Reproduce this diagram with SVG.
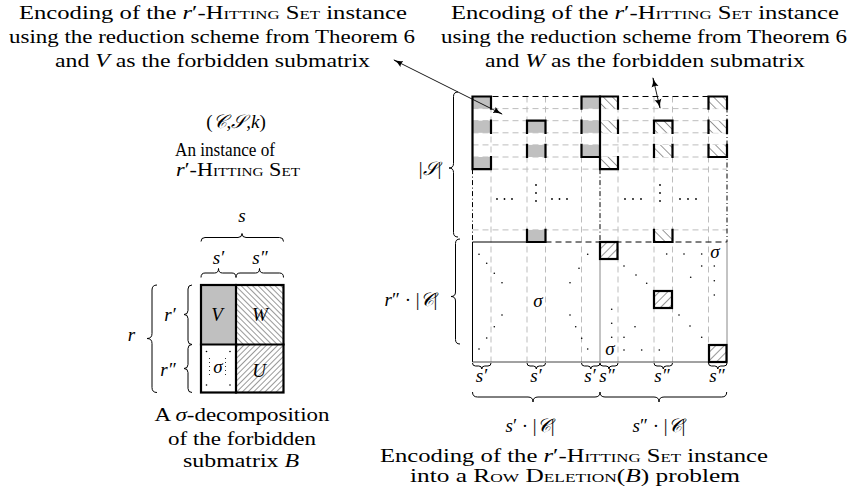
<svg xmlns="http://www.w3.org/2000/svg" width="852" height="499" viewBox="0 0 852 499">
<style>
.t{font-family:"Liberation Serif","DejaVu Serif",serif;font-size:19px;fill:#000}
.i{font-style:italic}
.sc{font-variant:small-caps}
.grid{stroke:#bdbdbd;stroke-width:1;stroke-dasharray:6 4;fill:none}
.thick{stroke:#000;stroke-width:2.2;fill:none;stroke-linecap:square}
.br{stroke:#000;stroke-width:1;fill:none}
.g{fill:#c0c0c0}
.dd{stroke:#000;stroke-width:1;stroke-dasharray:5 2.5 1 2.5;fill:none}
.dash{stroke:#000;stroke-width:1;stroke-dasharray:6 4;fill:none}
.dot{fill:#000}
.hb{fill:url(#hb)}
.hf{fill:url(#hf)}
</style>
<defs>
<pattern id="hbL" patternUnits="userSpaceOnUse" width="4" height="4" patternTransform="rotate(-45)"><line x1="0" y1="0" x2="0" y2="4" stroke="#000" stroke-width="0.8"/></pattern>
<pattern id="hfL" patternUnits="userSpaceOnUse" width="4" height="4" patternTransform="rotate(45)"><line x1="0" y1="0" x2="0" y2="4" stroke="#000" stroke-width="0.8"/></pattern>
<pattern id="hb" patternUnits="userSpaceOnUse" width="6.5" height="6.5" patternTransform="rotate(-45)"><rect width="6.5" height="6.5" fill="#fff"/><line x1="0" y1="0" x2="0" y2="6.5" stroke="#000" stroke-width="0.8"/></pattern>
<pattern id="hf" patternUnits="userSpaceOnUse" width="6" height="6" patternTransform="rotate(45)"><rect width="6" height="6" fill="#fff"/><line x1="0" y1="0" x2="0" y2="6" stroke="#000" stroke-width="0.8"/></pattern>
<marker id="ah" viewBox="0 0 10 8" refX="9" refY="4" markerWidth="10" markerHeight="8" markerUnits="userSpaceOnUse" orient="auto-start-reverse"><path d="M0,0.5 Q4,3.5 10,4 Q4,4.5 0,7.5 Q2,4 0,0.5 Z" fill="#000"/></marker>
</defs>

<g id="caption-left">
<text class="t" x="213" y="19" text-anchor="middle" textLength="388" lengthAdjust="spacingAndGlyphs">Encoding of the <tspan class="i">r</tspan>′-<tspan class="sc">Hitting Set</tspan> instance</text>
<text class="t" x="212" y="43" text-anchor="middle" textLength="406" lengthAdjust="spacingAndGlyphs">using the reduction scheme from Theorem 6</text>
<text class="t" x="212.5" y="67" text-anchor="middle" textLength="315" lengthAdjust="spacingAndGlyphs">and <tspan class="i">V</tspan> as the forbidden submatrix</text>
</g>
<g id="caption-right">
<text class="t" x="645" y="19" text-anchor="middle" textLength="388" lengthAdjust="spacingAndGlyphs">Encoding of the <tspan class="i">r</tspan>′-<tspan class="sc">Hitting Set</tspan> instance</text>
<text class="t" x="644" y="43" text-anchor="middle" textLength="406" lengthAdjust="spacingAndGlyphs">using the reduction scheme from Theorem 6</text>
<text class="t" x="645" y="67" text-anchor="middle" textLength="320" lengthAdjust="spacingAndGlyphs">and <tspan class="i">W</tspan> as the forbidden submatrix</text>
</g>

<g id="instance">
<text class="t" x="236" y="128" text-anchor="middle">(<tspan class="i">𝒞</tspan>,<tspan class="i">𝒮</tspan>,<tspan class="i">k</tspan>)</text>
<text class="t" x="225" y="155.5" text-anchor="middle" textLength="100" lengthAdjust="spacingAndGlyphs">An instance of</text>
<text class="t" x="238" y="176" text-anchor="middle" textLength="124" lengthAdjust="spacingAndGlyphs"><tspan class="i">r</tspan>′-<tspan class="sc">Hitting Set</tspan></text>
</g>

<g id="decomposition">
<rect x="201" y="285" width="35" height="59.5" class="g"/>
<rect x="236" y="285" width="47.5" height="59.5" fill="url(#hbL)"/>
<rect x="236" y="344.5" width="47.5" height="48" fill="url(#hfL)"/>
<text class="t i" x="217" y="321" text-anchor="middle">V</text>
<text class="t i" x="260" y="321" text-anchor="middle" fill="#333">W</text>
<text class="t i" x="259" y="377" text-anchor="middle" fill="#333">U</text>
<text class="t i" x="218" y="373" text-anchor="middle">σ</text>
<line x1="209.5" y1="358" x2="209.5" y2="378" stroke="#000" stroke-width="0.8" stroke-dasharray="1 3"/>
<line x1="225.5" y1="358" x2="225.5" y2="378" stroke="#000" stroke-width="0.8" stroke-dasharray="1 3"/>
<circle class="dot" cx="206.5" cy="351.5" r="0.8"/><circle class="dot" cx="230" cy="351.5" r="0.8"/>
<circle class="dot" cx="206.5" cy="385" r="0.8"/><circle class="dot" cx="230" cy="385" r="0.8"/>
<rect x="201" y="285" width="82.5" height="107.5" class="thick"/>
<line x1="236" y1="285" x2="236" y2="392.5" class="thick"/>
<line x1="201" y1="344.5" x2="283.5" y2="344.5" class="thick"/>
</g>
<g id="decomposition-braces">
<path class="br" d="M201,241.5 Q201,237.5 205,237.5 L238,237.5 Q242,237.5 242,233.5 Q242,237.5 246,237.5 L279.5,237.5 Q283.5,237.5 283.5,241.5"/>
<path class="br" d="M201,277.5 Q201,273 205,273 L214.5,273 Q218.5,273 218.5,268.5 Q218.5,273 222.5,273 L232,273 Q236,273 236,277.5"/>
<path class="br" d="M236,277.5 Q236,273 240,273 L255.5,273 Q259.5,273 259.5,268.5 Q259.5,273 263.5,273 L279.5,273 Q283.5,273 283.5,277.5"/>
<path class="br" d="M192,285 Q188,285 188,289 L188,310.5 Q188,314.5 184,314.5 Q188,314.5 188,318.5 L188,340.5 Q188,344.5 192,344.5"/>
<path class="br" d="M192,344.5 Q188,344.5 188,348.5 L188,364.5 Q188,368.5 184,368.5 Q188,368.5 188,372.5 L188,388.5 Q188,392.5 192,392.5"/>
<path class="br" d="M157,285 Q152,285 152,290 L152,333.5 Q152,338.5 147,338.5 Q152,338.5 152,343.5 L152,387.5 Q152,392.5 157,392.5"/>
<text class="t i" x="242" y="222" text-anchor="middle">s</text>
<text class="t i" x="218.5" y="263.5" text-anchor="middle">s′</text>
<text class="t i" x="260" y="263.5" text-anchor="middle">s″</text>
<text class="t i" x="170" y="321" text-anchor="middle">r′</text>
<text class="t i" x="168" y="376" text-anchor="middle">r″</text>
<text class="t i" x="131.5" y="341" text-anchor="middle">r</text>
</g>
<g id="decomposition-caption">
<text class="t" x="242" y="421" text-anchor="middle" textLength="175" lengthAdjust="spacingAndGlyphs">A <tspan class="i">σ</tspan>-decomposition</text>
<text class="t" x="242" y="444.5" text-anchor="middle" textLength="148" lengthAdjust="spacingAndGlyphs">of the forbidden</text>
<text class="t" x="241" y="467" text-anchor="middle" textLength="116" lengthAdjust="spacingAndGlyphs">submatrix <tspan class="i">B</tspan></text>
</g>

<g id="encoding-grid">
<path class="grid" d="M491,96.5V362 M527,96.5V362 M545.5,96.5V362 M581.5,96.5V362 M618,96.5V362 M654,96.5V362 M672.5,96.5V362 M708.5,96.5V362"/>
<path class="grid" d="M472.5,108.6H727 M472.5,120.7H727 M472.5,132.8H727 M472.5,144.9H727 M472.5,157H727 M472.5,169.1H727 M472.5,229.9H727"/>
</g>
<g id="encoding-V-cells">
<rect class="g" x="472.5" y="96.5" width="18.5" height="12.1"/>
<rect class="g" x="472.5" y="120.7" width="18.5" height="12.1"/>
<rect class="g" x="472.5" y="157" width="18.5" height="12.1"/>
<rect class="g" x="527" y="120.7" width="18.5" height="12.1"/>
<rect class="g" x="527" y="144.9" width="18.5" height="12.1"/>
<rect class="g" x="527" y="229.9" width="18.5" height="12.1"/>
<rect class="g" x="581.5" y="96.5" width="18.5" height="12.1"/>
<rect class="g" x="581.5" y="120.7" width="18.5" height="12.1"/>
<rect class="g" x="581.5" y="144.9" width="18.5" height="12.1"/>
</g>
<g id="encoding-W-cells">
<rect class="hb" x="600" y="96.5" width="18" height="12.1"/>
<rect class="hb" x="600" y="120.7" width="18" height="12.1"/>
<rect class="hb" x="600" y="157" width="18" height="12.1"/>
<rect class="hb" x="654" y="120.7" width="18.5" height="12.1"/>
<rect class="hb" x="654" y="144.9" width="18.5" height="12.1"/>
<rect class="hb" x="654" y="229.9" width="18.5" height="12.1"/>
<rect class="hb" x="708.5" y="96.5" width="18.5" height="12.1"/>
<rect class="hb" x="708.5" y="120.7" width="18.5" height="12.1"/>
<rect class="hb" x="708.5" y="144.9" width="18.5" height="12.1"/>
</g>
<g id="encoding-frame">
<line class="dash" x1="472.5" y1="96.5" x2="727" y2="96.5"/>
<line class="dd" x1="472.5" y1="169.1" x2="472.5" y2="242"/>
<line class="dd" x1="727" y1="96.5" x2="727" y2="242"/>
<line class="dd" x1="600" y1="169.1" x2="600" y2="242"/>
<line x1="472.5" y1="242" x2="527" y2="242" stroke="#000" stroke-width="1"/>
<line class="dash" x1="545.5" y1="242" x2="727" y2="242"/>
<line x1="472.5" y1="242" x2="472.5" y2="362" stroke="#000" stroke-width="1"/>
<line x1="472.5" y1="362" x2="727" y2="362" stroke="#444" stroke-width="1"/>
<line x1="727" y1="242" x2="727" y2="362" stroke="#888" stroke-width="1"/>
<line x1="600" y1="242" x2="600" y2="362" stroke="#888" stroke-width="1"/>
</g>
<g id="encoding-set-columns">
<path class="thick" d="M472.5,96.5V169.1 M472.5,96.5H491 M472.5,169.1H491 M491,96.5V108.6 M491,120.7V132.8 M491,157V169.1"/>
<path class="thick" d="M527,120.7H545.5 M527,242H545.5 M527,120.7V132.8 M545.5,120.7V132.8 M527,144.9V157 M545.5,144.9V157 M527,229.9V242 M545.5,229.9V242"/>
<path class="thick" d="M581.5,96.5H600 M581.5,157H600 M581.5,96.5V108.6 M581.5,120.7V132.8 M581.5,144.9V157"/>
<path class="thick" d="M600,96.5V169.1 M600,96.5H618 M600,169.1H618 M618,96.5V108.6 M618,120.7V132.8 M618,157V169.1"/>
<path class="thick" d="M654,120.7H672.5 M654,242H672.5 M654,120.7V132.8 M672.5,120.7V132.8 M654,144.9V157 M672.5,144.9V157 M654,229.9V242 M672.5,229.9V242"/>
<path class="thick" d="M708.5,96.5H727 M708.5,157H727 M708.5,96.5V108.6 M727,96.5V108.6 M708.5,120.7V132.8 M727,120.7V132.8 M708.5,144.9V157 M727,144.9V157"/>
</g>
<g id="encoding-dots-top">
<circle class="dot" cx="536" cy="185" r="0.9"/><circle class="dot" cx="536" cy="193" r="0.9"/><circle class="dot" cx="536" cy="201" r="0.9"/>
<circle class="dot" cx="497" cy="199" r="0.9"/><circle class="dot" cx="504.5" cy="199" r="0.9"/><circle class="dot" cx="512" cy="199" r="0.9"/>
<circle class="dot" cx="552" cy="199" r="0.9"/><circle class="dot" cx="559.5" cy="199" r="0.9"/><circle class="dot" cx="567" cy="199" r="0.9"/>
<circle class="dot" cx="660" cy="185" r="0.9"/><circle class="dot" cx="660" cy="193" r="0.9"/><circle class="dot" cx="660" cy="201" r="0.9"/>
<circle class="dot" cx="625" cy="199" r="0.9"/><circle class="dot" cx="633" cy="199" r="0.9"/><circle class="dot" cx="641" cy="199" r="0.9"/>
<circle class="dot" cx="680" cy="199" r="0.9"/><circle class="dot" cx="688" cy="199" r="0.9"/><circle class="dot" cx="696" cy="199" r="0.9"/>
</g>
<g id="encoding-sigma-left">
<text class="t i" x="538" y="307" text-anchor="middle">σ</text>
<circle class="dot" cx="479" cy="254.3" r="0.8"/><circle class="dot" cx="486.7" cy="263.3" r="0.8"/><circle class="dot" cx="494.3" cy="273.3" r="0.8"/><circle class="dot" cx="502" cy="282.7" r="0.8"/>
<circle class="dot" cx="502" cy="315" r="0.8"/><circle class="dot" cx="494.3" cy="326.7" r="0.8"/><circle class="dot" cx="486.7" cy="338" r="0.8"/><circle class="dot" cx="479" cy="349" r="0.8"/>
<circle class="dot" cx="587.7" cy="254.3" r="0.8"/><circle class="dot" cx="579" cy="268.3" r="0.8"/><circle class="dot" cx="570" cy="282.7" r="0.8"/>
<circle class="dot" cx="570" cy="315" r="0.8"/><circle class="dot" cx="575.7" cy="326.7" r="0.8"/><circle class="dot" cx="581.7" cy="338.3" r="0.8"/><circle class="dot" cx="587.7" cy="349" r="0.8"/>
</g>
<g id="encoding-U-blocks">
<rect class="hf" x="600" y="242" width="17.5" height="17"/>
<rect class="hf" x="654" y="291" width="18" height="17"/>
<rect class="hf" x="709" y="345" width="17.5" height="17"/>
<rect class="thick" x="600" y="242" width="17.5" height="17"/>
<rect class="thick" x="654" y="291" width="18" height="17"/>
<rect class="thick" x="709" y="345" width="17.5" height="17"/>
<text class="t i" x="715" y="258" text-anchor="middle">σ</text>
<text class="t i" x="610" y="355" text-anchor="middle">σ</text>
<circle class="dot" cx="666.7" cy="254" r="0.8"/><circle class="dot" cx="684" cy="254" r="0.8"/><circle class="dot" cx="701.7" cy="254" r="0.8"/>
<circle class="dot" cx="624" cy="266" r="0.8"/><circle class="dot" cx="636" cy="275" r="0.8"/><circle class="dot" cx="646.7" cy="283.3" r="0.8"/>
<circle class="dot" cx="701.7" cy="266" r="0.8"/><circle class="dot" cx="714.3" cy="266" r="0.8"/><circle class="dot" cx="690.7" cy="277.3" r="0.8"/>
<circle class="dot" cx="714.3" cy="280.7" r="0.8"/><circle class="dot" cx="714.3" cy="295" r="0.8"/>
<circle class="dot" cx="611.7" cy="309.3" r="0.8"/><circle class="dot" cx="679" cy="315" r="0.8"/><circle class="dot" cx="611.7" cy="323.3" r="0.8"/>
<circle class="dot" cx="635" cy="326.7" r="0.8"/><circle class="dot" cx="690" cy="326" r="0.8"/>
<circle class="dot" cx="611.7" cy="337.3" r="0.8"/><circle class="dot" cx="624" cy="337.3" r="0.8"/><circle class="dot" cx="701.7" cy="337.3" r="0.8"/>
<circle class="dot" cx="624" cy="350" r="0.8"/><circle class="dot" cx="641.7" cy="350" r="0.8"/><circle class="dot" cx="659.3" cy="350" r="0.8"/>
</g>
<g id="encoding-braces">
<path class="br" d="M458,92 Q453.5,92 453.5,96.5 L453.5,163.5 Q453.5,168 449,168 Q453.5,168 453.5,172.5 L453.5,232.5 Q453.5,237 458,237"/>
<path class="br" d="M460,239 Q455.5,239 455.5,243.5 L455.5,292 Q455.5,296.5 451,296.5 Q455.5,296.5 455.5,301 L455.5,339.5 Q455.5,344 460,344"/>
<text class="t" x="430" y="175" text-anchor="middle">|<tspan class="i">𝒮</tspan>|</text>
<text class="t" x="411" y="306" text-anchor="middle"><tspan class="i">r</tspan>″ · |<tspan class="i">𝒞</tspan>|</text>
<path class="br" d="M472.5,363 Q472.5,366 475.5,366 L478.8,366 Q481.8,366 481.8,369 Q481.8,366 484.8,366 L488,366 Q491,366 491,363"/>
<path class="br" d="M527,363 Q527,366 530,366 L533.3,366 Q536.3,366 536.3,369 Q536.3,366 539.3,366 L542.5,366 Q545.5,366 545.5,363"/>
<path class="br" d="M581.5,363 Q581.5,366 584.5,366 L587.8,366 Q590.8,366 590.8,369 Q590.8,366 593.8,366 L597,366 Q600,366 600,363"/>
<path class="br" d="M600,363 Q600,366 603,366 L606,366 Q609,366 609,369 Q609,366 612,366 L615,366 Q618,366 618,363"/>
<path class="br" d="M654,363 Q654,366 657,366 L660.3,366 Q663.3,366 663.3,369 Q663.3,366 666.3,366 L669.5,366 Q672.5,366 672.5,363"/>
<path class="br" d="M708.5,363 Q708.5,366 711.5,366 L714.8,366 Q717.8,366 717.8,369 Q717.8,366 720.8,366 L724,366 Q727,366 727,363"/>
<text class="t i" x="481.5" y="382" text-anchor="middle">s′</text>
<text class="t i" x="536" y="382" text-anchor="middle">s′</text>
<text class="t i" x="590" y="382" text-anchor="middle">s′</text>
<text class="t i" x="607" y="382" text-anchor="middle">s″</text>
<text class="t i" x="662" y="382" text-anchor="middle">s″</text>
<text class="t i" x="717" y="382" text-anchor="middle">s″</text>
<path class="br" d="M472.5,392 Q472.5,397 477.5,397 L528,397 Q533,397 533,402 Q533,397 538,397 L595,397 Q600,397 600,392"/>
<path class="br" d="M600,392 Q600,397 605,397 L654,397 Q659,397 659,402 Q659,397 664,397 L721.7,397 Q726.7,397 726.7,392"/>
<text class="t" x="530" y="432" text-anchor="middle"><tspan class="i">s</tspan>′ · |<tspan class="i">𝒞</tspan>|</text>
<text class="t" x="659" y="432" text-anchor="middle"><tspan class="i">s</tspan>″ · |<tspan class="i">𝒞</tspan>|</text>
</g>
<g id="encoding-caption">
<text class="t" x="574" y="461.5" text-anchor="middle" textLength="388" lengthAdjust="spacingAndGlyphs">Encoding of the <tspan class="i">r</tspan>′-<tspan class="sc">Hitting Set</tspan> instance</text>
<text class="t" x="575" y="482" text-anchor="middle" textLength="330" lengthAdjust="spacingAndGlyphs">into a <tspan class="sc">Row Deletion</tspan>(<tspan class="i">B</tspan>) problem</text>
</g>

<g id="connectors">
<line x1="394" y1="60" x2="502" y2="114" stroke="#000" stroke-width="0.9" marker-start="url(#ah)" marker-end="url(#ah)"/>
<line x1="653" y1="78" x2="660" y2="108" stroke="#000" stroke-width="0.9" marker-start="url(#ah)" marker-end="url(#ah)"/>
</g>
</svg>
